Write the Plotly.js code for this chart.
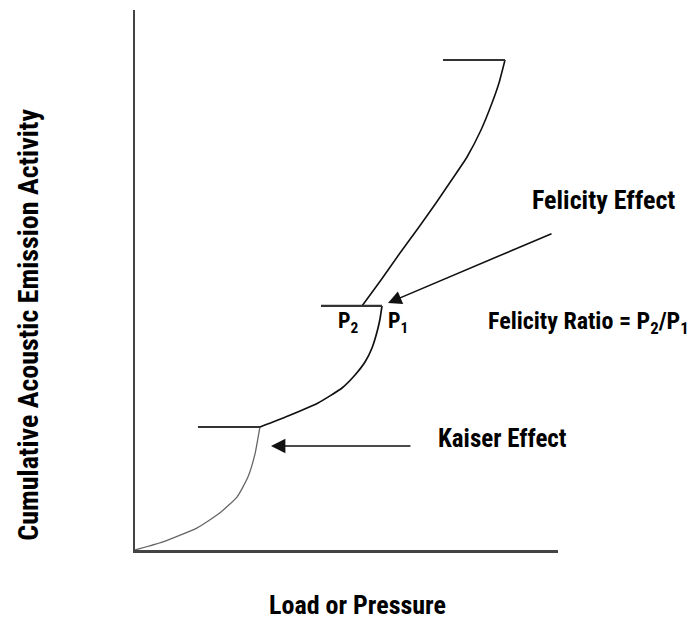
<!DOCTYPE html>
<html>
<head>
<meta charset="utf-8">
<script src="https://cdn.plot.ly/plotly-3.0.1.min.js"></script>
<style>html,body{margin:0;padding:0;background:#fff;}#chart{width:691px;height:619px;}</style>
</head>
<body>
<div id="chart"></div>
<script>
// First loading: origin up to the Kaiser point
const load1 = [0, 6.6, 14.7, 20.1, 24.1, 26.7, 28.4, 29.2, 29.55];
const ae1   = [0, 1.5, 4.1, 6.9, 9.8, 13.5, 17.9, 21.3, 22.78];
// Second loading: Kaiser point up to P1
const load2 = [29.55, 36.17, 43.26, 48.94, 52.01, 54.37, 56.03, 57.21, 57.92, 58.39];
const ae2   = [22.78, 24.81, 27.22, 30.0, 32.41, 34.81, 37.41, 40.37, 42.78, 45.19];
// Third loading: from P2 upward
const load3 = [53.66, 58.16, 62.65, 67.14, 71.16, 75.18, 78.49, 81.80, 84.40, 86.05, 87.47];
const ae3   = [45.19, 50.0, 55.0, 59.81, 64.26, 68.89, 72.78, 77.78, 82.78, 86.48, 90.74];
// Hold (unload) shelves
const shelfKaiserX = [14.89, 29.55];
const shelfKaiserY = [22.78, 22.78];
const shelfFelicityX = [43.97, 58.39];
const shelfFelicityY = [45.19, 45.19];
const shelfTopX = [72.81, 87.47];
const shelfTopY = [90.74, 90.74];

const xTitle = 'Load or Pressure';
const yTitle = 'Cumulative Acoustic Emission Activity';

const FONT = "'Liberation Sans Narrow', 'Arial Narrow', 'Roboto Condensed', 'Liberation Sans', Arial, sans-serif";

const traces = [
  {x: load1, y: ae1, mode: 'lines', line: {color: '#666', width: 1.3, shape: 'spline', smoothing: 0.5}, hoverinfo: 'skip'},
  {x: load2, y: ae2, mode: 'lines', line: {color: '#111', width: 1.7, shape: 'spline', smoothing: 0.5}, hoverinfo: 'skip'},
  {x: load3, y: ae3, mode: 'lines', line: {color: '#111', width: 1.6, shape: 'spline', smoothing: 0.5}, hoverinfo: 'skip'},
  {x: shelfKaiserX, y: shelfKaiserY, mode: 'lines', line: {color: '#333', width: 2.2}, hoverinfo: 'skip'},
  {x: shelfFelicityX, y: shelfFelicityY, mode: 'lines', line: {color: '#333', width: 2.2}, hoverinfo: 'skip'},
  {x: shelfTopX, y: shelfTopY, mode: 'lines', line: {color: '#333', width: 2.2}, hoverinfo: 'skip'}
];

function tf(size) { return {family: FONT, size: size, color: '#000', weight: 'bold'}; }

const layout = {
  width: 691, height: 619,
  margin: {l: 135, r: 133, t: 10, b: 69},
  paper_bgcolor: '#fff', plot_bgcolor: '#fff',
  showlegend: false,
  xaxis: {range: [0, 100], showline: true, linecolor: '#444', linewidth: 2.5, showgrid: false, zeroline: false,
          showticklabels: false, ticks: '', fixedrange: true},
  yaxis: {range: [0, 100], showline: true, linecolor: '#444', linewidth: 2.5, showgrid: false, zeroline: false,
          showticklabels: false, ticks: '', fixedrange: true},
  annotations: [
    {x: 59.81, y: 45.74, ax: 98.82, ay: 58.70, axref: 'x', ayref: 'y', xref: 'x', yref: 'y', text: '',
     showarrow: true, arrowhead: 2, arrowsize: 1.7, arrowwidth: 1.6, arrowcolor: '#111'},
    {x: 32.15, y: 19.26, ax: 65.48, ay: 19.26, axref: 'x', ayref: 'y', xref: 'x', yref: 'y', text: '',
     showarrow: true, arrowhead: 2, arrowsize: 1.8, arrowwidth: 1.6, arrowcolor: '#111'},
    {x: 0.525, y: -0.102, xref: 'paper', yref: 'paper', xanchor: 'center', yanchor: 'middle',
     text: '<b>' + xTitle + '</b>', showarrow: false, font: tf(26)},
    {x: -0.251, y: 0.417, xref: 'paper', yref: 'paper', xanchor: 'center', yanchor: 'middle', textangle: -90,
     text: '<b>' + yTitle + '</b>', showarrow: false, font: tf(28)},
    {x: 0.934, y: 0.648, xref: 'paper', yref: 'paper', xanchor: 'left', yanchor: 'middle',
     text: '<b>Felicity Effect</b>', showarrow: false, font: tf(26)},
    {x: 0.830, y: 0.422, xref: 'paper', yref: 'paper', xanchor: 'left', yanchor: 'middle',
     text: '<b>Felicity Ratio = P<sub>2</sub>/P<sub>1</sub></b>', showarrow: false, font: tf(24)},
    {x: 0.712, y: 0.207, xref: 'paper', yref: 'paper', xanchor: 'left', yanchor: 'middle',
     text: '<b>Kaiser Effect</b>', showarrow: false, font: tf(25)},
    {x: 0.504, y: 0.422, xref: 'paper', yref: 'paper', text: '<b>P<sub>2</sub></b>', showarrow: false, font: tf(22)},
    {x: 0.622, y: 0.422, xref: 'paper', yref: 'paper', text: '<b>P<sub>1</sub></b>', showarrow: false, font: tf(22)}
  ]
};

Plotly.newPlot('chart', traces, layout, {displayModeBar: false, staticPlot: true});
</script>
</body>
</html>
